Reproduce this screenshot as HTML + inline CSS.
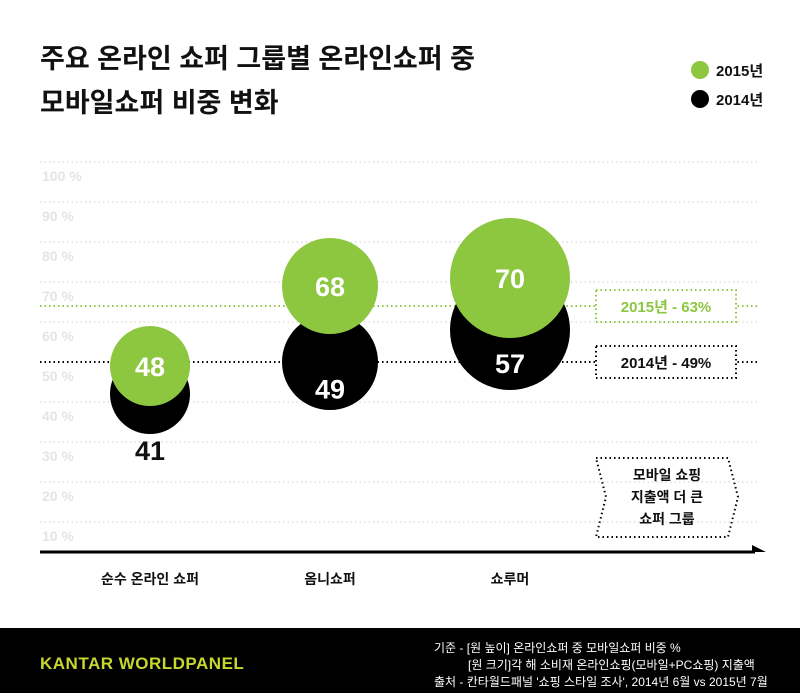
<!DOCTYPE html>
<html><head><meta charset="utf-8">
<style>
body{margin:0;width:800px;height:693px;background:#fff;overflow:hidden;font-family:"Liberation Sans","Noto Sans CJK KR",sans-serif;}
svg text{font-family:"Liberation Sans","Noto Sans CJK KR",sans-serif;}
</style></head><body>
<svg id="chart" width="800" height="693" viewBox="0 0 800 693">
<text x="40" y="68" font-size="27" font-weight="bold" fill="#111">주요 온라인 쇼퍼 그룹별 온라인쇼퍼 중</text>
<text x="40" y="112" font-size="27" font-weight="bold" fill="#111">모바일쇼퍼 비중 변화</text>
<g>
<circle cx="700" cy="70" r="9" fill="#8dc63f"/>
<text x="716" y="76" font-size="15" font-weight="bold" fill="#111">2015년</text>
<circle cx="700" cy="99" r="9" fill="#000"/>
<text x="716" y="105" font-size="15" font-weight="bold" fill="#111">2014년</text>
</g>
<g id="grid"></g>
<g id="refs"></g>
<g id="bubbles"></g>
<line x1="40" y1="552" x2="755" y2="552" stroke="#000" stroke-width="3"/>
<polygon points="752,545 766,552 752,552" fill="#000"/>
<g>
<polygon points="596,458 728,458 738,497 728,537 596,537 606,497" fill="none" stroke="#000" stroke-width="2" stroke-dasharray="1.5,3"/>
<text x="667" y="480" font-size="14" font-weight="bold" text-anchor="middle" fill="#111">모바일 쇼핑</text>
<text x="667" y="502" font-size="14" font-weight="bold" text-anchor="middle" fill="#111">지출액 더 큰</text>
<text x="667" y="524" font-size="14" font-weight="bold" text-anchor="middle" fill="#111">쇼퍼 그룹</text>
</g>
<g id="xlabels"></g>
<rect x="0" y="628" width="800" height="65" fill="#000"/>
<text x="40" y="669" font-size="17" font-weight="bold" fill="#c4d82e" letter-spacing="0.5">KANTAR WORLDPANEL</text>
<text x="434" y="652" font-size="12" fill="#fff">기준 - [원 높이] 온라인쇼퍼 중 모바일쇼퍼 비중 %</text>
<text x="468" y="669" font-size="12" fill="#fff">[원 크기]각 해 소비재 온라인쇼핑(모바일+PC쇼핑) 지출액</text>
<text x="434" y="686" font-size="12" fill="#fff">출처 - 칸타월드패널 '쇼핑 스타일 조사', 2014년 6월 vs 2015년 7월</text>
</svg>
<script>
const categories=["순수 온라인 쇼퍼","옴니쇼퍼","쇼루머"];
const values2015=[48,68,70];
const values2014=[41,49,57];
const spendSize=[40,48,60];
const avgLabels=["2015년 - 63%","2014년 - 49%"];
const avgValues=[63,49];
const ticks=[100,90,80,70,60,50,40,30,20,10];
const NS="http://www.w3.org/2000/svg";
const y=v=>362-(v-49)*4.0;
const x=i=>150+i*180;
function mk(tag,attrs,parent){const e=document.createElementNS(NS,tag);for(const k in attrs)e.setAttribute(k,attrs[k]);parent.appendChild(e);return e;}
const grid=document.getElementById('grid');
ticks.forEach(t=>{
 const l=mk('line',{x1:40,x2:760,y1:y(t)+4,y2:y(t)+4,stroke:'#ddd','stroke-width':1.5,'stroke-dasharray':'1.5,3'},grid);
 
 
 const tx=mk('text',{x:42,y:y(t)+23,'font-size':14,'font-weight':'bold',fill:'#e4e4e4'},grid);
 tx.textContent=t+' %';
 
 
});
const refs=document.getElementById('refs');
avgValues.forEach((v,i)=>{
 const col=i===0?'#8dc63f':'#000';
 const l=mk('line',{x1:40,x2:760,y1:y(v),y2:y(v),stroke:col,'stroke-width':2,'stroke-dasharray':'1.5,3'},refs);
 
 
 const r=mk('rect',{x:596,y:y(v)-16,width:140,height:32,fill:'#fff',stroke:col,'stroke-width':2,'stroke-dasharray':'1.5,3'},refs);
 
 
 const t=mk('text',{x:666,y:y(v)+6,'font-size':15,'font-weight':'bold','text-anchor':'middle',fill:i===0?'#8dc63f':'#111'},refs);
 t.textContent=avgLabels[i];
 
 
});
const b=document.getElementById('bubbles');
categories.forEach((c,i)=>{
 const r=spendSize[i];
 const c14=mk('circle',{cx:x(i),cy:y(values2014[i]),r:r,fill:'#000'},b);
 
 
 const c15=mk('circle',{cx:x(i),cy:y(values2015[i]),r:r,fill:'#8dc63f'},b);
 
 
 const t15=mk('text',{x:x(i),y:y(values2015[i])+10,'font-size':27,'font-weight':'bold','text-anchor':'middle',fill:'#fff'},b);
 t15.textContent=values2015[i];
 
 
 const inside=i>0;
 const ty=inside?y(values2014[i])+r*0.55+10:y(values2014[i])+r+26;
 const t14=mk('text',{x:x(i),y:ty,'font-size':27,'font-weight':'bold','text-anchor':'middle',fill:inside?'#fff':'#111'},b);
 t14.textContent=values2014[i];
 
 
});
const xl=document.getElementById('xlabels');
categories.forEach((c,i)=>{
 const t=mk('text',{x:x(i),y:584,'font-size':14,'font-weight':'bold','text-anchor':'middle',fill:'#111'},xl);
 t.textContent=c;
 
 
});
</script>
</body></html>
